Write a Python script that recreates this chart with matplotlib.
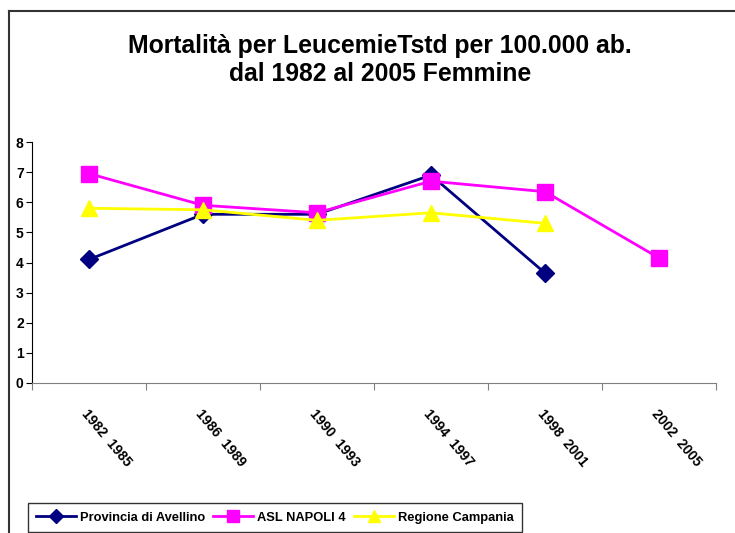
import matplotlib
matplotlib.use('Agg')
import matplotlib.pyplot as plt
from matplotlib.lines import Line2D

periods = ['1982  1985', '1986  1989', '1990  1993', '1994  1997', '1998  2001', '2002  2005']
avellino = [4.1, 5.6, 5.6, 6.9, 3.65]
napoli4 = [6.95, 5.9, 5.65, 6.7, 6.35, 4.15]
campania = [5.8, 5.75, 5.4, 5.65, 5.3]

plt.rcParams['font.family'] = ['Liberation Sans', 'DejaVu Sans']
plt.rcParams['font.weight'] = 'bold'

fig = plt.figure(figsize=(7.35, 5.33), dpi=100)
ax = fig.add_axes([32 / 735, 150 / 533, 684 / 735, 241 / 533])

xs = list(range(len(periods)))
ax.plot(xs[:len(avellino)], avellino, color='#000080', marker='D', markersize=9, lw=2,
        label='Provincia di Avellino')
ax.plot(xs[:len(napoli4)], napoli4, color='#ff00ff', marker='s', markersize=11, lw=2,
        label='ASL NAPOLI 4')
ax.plot(xs[:len(campania)], campania, color='#ffff00', marker='^', markersize=11, lw=2,
        label='Regione Campania')

ax.set_xlim(-0.5, len(periods) - 0.5)
ax.set_ylim(0, 8)
ax.set_yticks(range(0, 9))
ax.set_xticks([i - 0.5 for i in range(len(periods) + 1)], minor=False)
ax.set_xticklabels([])
ax.set_xticks(xs, minor=True)
ax.set_xticklabels(periods, minor=True, rotation=-50, ha='left', va='top',
                   rotation_mode='anchor', fontsize=10, fontweight='bold')
ax.tick_params(axis='x', which='minor', length=0, pad=17)
ax.tick_params(axis='x', which='major', length=5, direction='out', color='#808080')
ax.tick_params(axis='y', length=4, direction='out', labelsize=10, pad=2)
ax.spines['top'].set_visible(False)
ax.spines['right'].set_visible(False)
ax.spines['left'].set_color('black')
ax.spines['bottom'].set_color('#808080')

fig.text(380 / 735, 1 - 60 / 533, 'Mortalità per LeucemieTstd per 100.000 ab.\ndal 1982 al 2005 Femmine',
         ha='center', va='center', fontsize=17.8, fontweight='bold', linespacing=1.25)

fig.add_artist(Line2D([9 / 735, 9 / 735], [0, 1 - 11 / 533], color='#333333', lw=1.5))
fig.add_artist(Line2D([9 / 735, 1], [1 - 11 / 533, 1 - 11 / 533], color='#333333', lw=1.5))

leg = fig.legend(loc='lower left', bbox_to_anchor=(28 / 735, 1 / 533), ncol=3,
                 frameon=True, fancybox=False, edgecolor='black', markerscale=0.75,
                 handlelength=3.1, handletextpad=0.3, columnspacing=0.6,
                 borderpad=0.65, borderaxespad=0, prop={'weight': 'bold', 'size': 9.3})
leg.get_frame().set_linewidth(1)

fig.savefig('out.png', dpi=100)
